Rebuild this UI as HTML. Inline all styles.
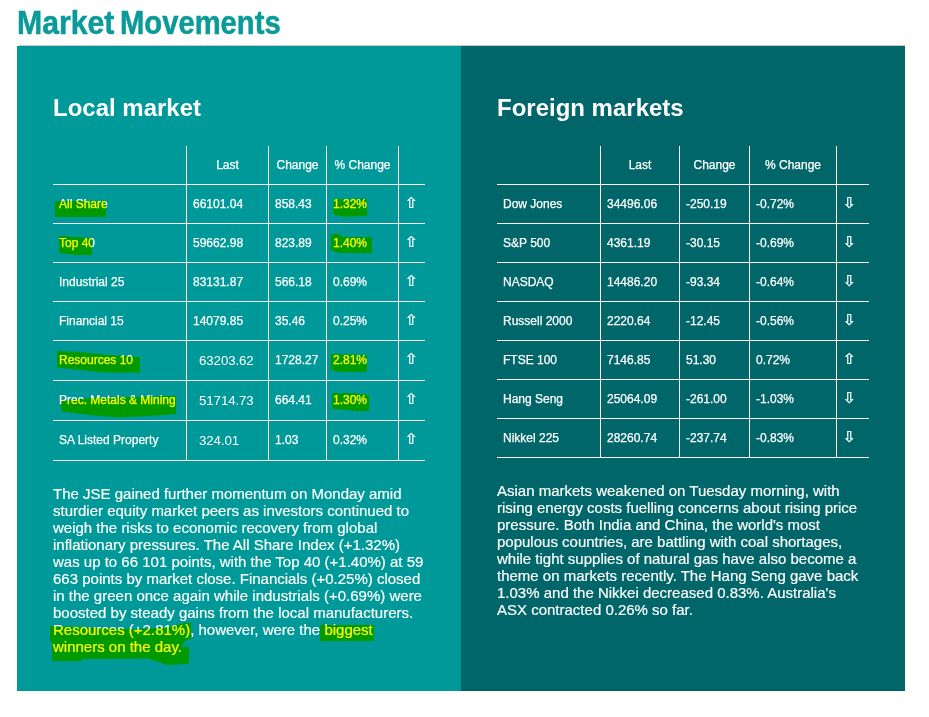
<!DOCTYPE html>
<html lang="en">
<head>
<meta charset="utf-8">
<title>Market Movements</title>
<style>
html,body{margin:0;padding:0;background:#fff;}
body{width:929px;height:717px;position:relative;overflow:hidden;font-family:"Liberation Sans",sans-serif;color:#fff;}
.title{position:absolute;left:0;top:0;margin:0;font-weight:bold;font-size:32.5px;line-height:44px;color:#0a9a9a;white-space:nowrap;-webkit-text-stroke:0.5px #0a9a9a;}
.title span{position:absolute;top:1px;transform-origin:0 0;}
.rule{position:absolute;left:19px;top:45px;width:886px;height:1px;background:#d2c4c5;}
.panel{position:absolute;top:46px;height:645px;}
.local{left:17px;width:444px;background:#009999;}
.foreign{left:461px;width:444px;background:#006669;box-shadow:inset 0 -1px 0 #005a5e;}
h2{position:absolute;margin:0;font-size:23px;line-height:28px;font-weight:bold;white-space:nowrap;transform-origin:0 0;transform:scaleX(1.043);}
table{-webkit-text-stroke:0.25px #fff;position:absolute;border-collapse:separate;border-spacing:0;table-layout:fixed;font-size:12px;line-height:14px;}
td,th{padding:0 0 0 6px;height:38px;border-bottom:1px solid #fff;font-weight:normal;text-align:left;vertical-align:middle;white-space:nowrap;overflow:visible;box-sizing:content-box;}
td+td,th+th{border-left:1px solid #fff;}
th{text-align:center;padding:0;}
tr.tall td{height:38px;padding-bottom:1px;}
tr.tall td.big{font-size:13.3px;letter-spacing:-0.1px;padding:1px 0 0 12px;height:38px;-webkit-text-stroke:0;}
.arr{font-family:"DejaVu Sans",sans-serif;font-size:15.5px;font-weight:bold;-webkit-text-stroke:0;}
.arr span{display:inline-block;transform:translateY(-0.4px) scale(1.08,0.97);}
p{position:absolute;margin:0;-webkit-text-stroke:0.18px #fff;font-size:15px;line-height:17px;width:400px;}
.hl{position:absolute;left:0;top:0;width:929px;height:717px;mix-blend-mode:multiply;pointer-events:none;}
</style>
</head>
<body>
<h1 class="title"><span style="left:17px;transform:scaleX(0.93)">Market</span> <span style="left:119.6px;transform:scaleX(0.8985)">Movements</span></h1>
<div class="rule"></div>

<div class="panel local">
  <h2 style="left:36px;top:48px;">Local market</h2>
  <table style="left:36px;top:100px;width:372px;">
    <colgroup><col style="width:133px"><col style="width:82px"><col style="width:58px"><col style="width:72px"><col style="width:27px"></colgroup>
    <tr><th></th><th>Last</th><th>Change</th><th>% Change</th><th></th></tr>
    <tr><td>All Share</td><td>66101.04</td><td>858.43</td><td>1.32%</td><td class="arr"><span>⇧</span></td></tr>
    <tr><td>Top 40</td><td>59662.98</td><td>823.89</td><td>1.40%</td><td class="arr"><span>⇧</span></td></tr>
    <tr><td>Industrial 25</td><td>83131.87</td><td>566.18</td><td>0.69%</td><td class="arr"><span>⇧</span></td></tr>
    <tr><td>Financial 15</td><td>14079.85</td><td>35.46</td><td>0.25%</td><td class="arr"><span>⇧</span></td></tr>
    <tr class="tall"><td>Resources 10</td><td class="big">63203.62</td><td>1728.27</td><td>2.81%</td><td class="arr"><span>⇧</span></td></tr>
    <tr class="tall"><td>Prec. Metals &amp; Mining</td><td class="big">51714.73</td><td>664.41</td><td>1.30%</td><td class="arr"><span>⇧</span></td></tr>
    <tr class="tall"><td>SA Listed Property</td><td class="big">324.01</td><td>1.03</td><td>0.32%</td><td class="arr"><span>⇧</span></td></tr>
  </table>
  <p style="left:36px;top:439px;">The JSE gained further momentum on Monday amid<br>sturdier equity market peers as investors continued to<br>weigh the risks to economic recovery from global<br>inflationary pressures. The All Share Index (+1.32%)<br>was up to 66 101 points, with the Top 40 (+1.40%) at 59<br>663 points by market close. Financials (+0.25%) closed<br>in the green once again while industrials (+0.69%) were<br>boosted by steady gains from the local manufacturers.<br>Resources (+2.81%), however, were the biggest<br>winners on the day.</p>
</div>

<div class="panel foreign">
  <h2 style="left:36.3px;top:48px;">Foreign markets</h2>
  <table style="left:36px;top:100px;width:372px;">
    <colgroup><col style="width:103px"><col style="width:79px"><col style="width:70px"><col style="width:87px"><col style="width:33px"></colgroup>
    <tr><th></th><th>Last</th><th>Change</th><th>% Change</th><th></th></tr>
    <tr><td>Dow Jones</td><td>34496.06</td><td>-250.19</td><td>-0.72%</td><td class="arr"><span>⇩</span></td></tr>
    <tr><td>S&amp;P 500</td><td>4361.19</td><td>-30.15</td><td>-0.69%</td><td class="arr"><span>⇩</span></td></tr>
    <tr><td>NASDAQ</td><td>14486.20</td><td>-93.34</td><td>-0.64%</td><td class="arr"><span>⇩</span></td></tr>
    <tr><td>Russell 2000</td><td>2220.64</td><td>-12.45</td><td>-0.56%</td><td class="arr"><span>⇩</span></td></tr>
    <tr><td>FTSE 100</td><td>7146.85</td><td>51.30</td><td>0.72%</td><td class="arr"><span>⇧</span></td></tr>
    <tr><td>Hang Seng</td><td>25064.09</td><td>-261.00</td><td>-1.03%</td><td class="arr"><span>⇩</span></td></tr>
    <tr><td>Nikkel 225</td><td>28260.74</td><td>-237.74</td><td>-0.83%</td><td class="arr"><span>⇩</span></td></tr>
  </table>
  <p style="left:36px;top:436px;">Asian markets weakened on Tuesday morning, with<br>rising energy costs fuelling concerns about rising price<br>pressure. Both India and China, the world's most<br>populous countries, are battling with coal shortages,<br>while tight supplies of natural gas have also become a<br>theme on markets recently. The Hang Seng gave back<br>1.03% and the Nikkei decreased 0.83%. Australia's<br>ASX contracted 0.26% so far.</p>
</div>

<svg class="hl" viewBox="0 0 929 717">
  <g fill="#ffff00">
    <polygon points="55,201 106,201 106,217 55,217"/>
    <polygon points="59,236 92,238 92,255 74,255 68,254 59,253"/>
    <polygon points="333,199 367,199 367,216 345,217 338,215.5 333,214.5"/>
    <polygon points="331,234 340,234 343,237 372,237 372,253 339,253 335,251.5 331,250.5"/>
    <polygon points="57,351 80,352 110,355 140,357 140,372.5 106,372.5 80,370 57,367.5"/>
    <polygon points="61,401 90,398 130,397 176,396 176,414 150,416 118,417.5 90,415 66,412 61,411"/>
    <polygon points="331,354 367,355 367,371 362,372 342,372 333,370.5 331,370"/>
    <polygon points="332,393 358,393.5 369,395 369,411 356,411 348,410 332,409"/>
    <polygon points="50,626 100,628 140,629.5 170,627 184,623 191,623 191,638.7 185,641 181,647 189,647 189,663.6 185,664 167,665 153,660 147,658.5 82,659 82,661 52,661 52,641.5 50,641.5"/>
    <polygon points="320,625 374,625 374,641 320,641"/>
  </g>
</svg>
</body>
</html>
